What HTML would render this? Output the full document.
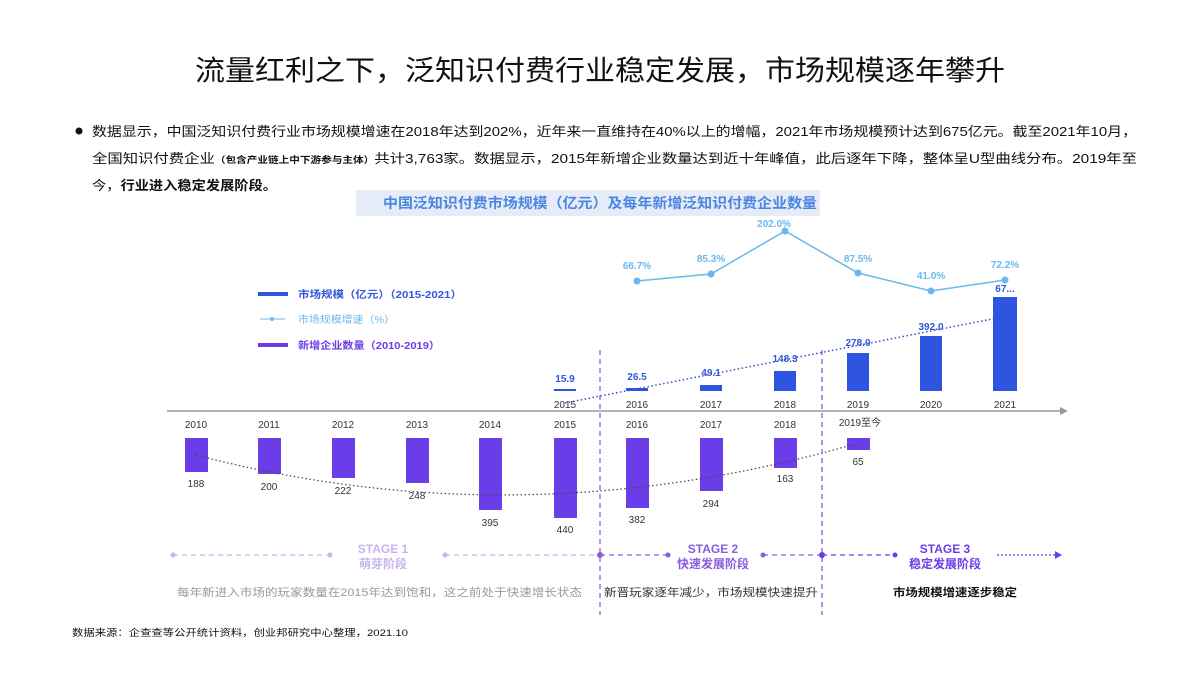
<!DOCTYPE html>
<html><head><meta charset="utf-8"><style>
body{margin:0;background:#fff;width:1200px;height:675px;overflow:hidden;font-family:"Liberation Sans","Noto Sans CJK SC",sans-serif}
</style></head><body>
<svg width="1200" height="675" xmlns="http://www.w3.org/2000/svg" font-family="Liberation Sans, Noto Sans CJK SC, sans-serif">
<text x="195" y="80" font-size="28" fill="#111" textLength="810" lengthAdjust="spacingAndGlyphs">流量红利之下，泛知识付费行业稳定发展，市场规模逐年攀升</text>
<circle cx="79" cy="131" r="3.5" fill="#111"/>
<g font-size="13" fill="#111">
<text x="92" y="136" textLength="1045" lengthAdjust="spacingAndGlyphs">数据显示，中国泛知识付费行业市场规模增速在2018年达到202%，近年来一直维持在40%以上的增幅，2021年市场规模预计达到675亿元。截至2021年10月，</text>
<text x="92" y="163" textLength="1045" lengthAdjust="spacingAndGlyphs">全国知识付费企业<tspan font-size="9" font-weight="bold">（包含产业链上中下游参与主体）</tspan>共计3,763家。数据显示，2015年新增企业数量达到近十年峰值，此后逐年下降，整体呈U型曲线分布。2019年至</text>
<text x="92" y="190" textLength="185" lengthAdjust="spacingAndGlyphs">今，<tspan font-weight="bold">行业进入稳定发展阶段。</tspan></text>
</g>
<rect x="356" y="190" width="464" height="26" fill="#e6ebf8"/>
<text x="383" y="208" font-size="14" font-weight="bold" fill="#4a86e0" textLength="434" lengthAdjust="spacingAndGlyphs">中国泛知识付费市场规模（亿元）及每年新增泛知识付费企业数量</text>
<!-- legend -->
<rect x="258" y="292" width="30" height="4" fill="#3057dc"/>
<text x="298" y="298" font-size="10" font-weight="bold" fill="#3057dc" textLength="164" lengthAdjust="spacingAndGlyphs">市场规模（亿元）（2015-2021）</text>
<line x1="260" y1="319" x2="285" y2="319" stroke="#6ab8ee"/><circle cx="272" cy="319" r="2" fill="#6ab8ee"/>
<text x="298" y="323" font-size="10" fill="#6ab8ee" textLength="97" lengthAdjust="spacingAndGlyphs">市场规模增速（%）</text>
<rect x="258" y="343" width="30" height="4" fill="#6a3de8"/>
<text x="298" y="349" font-size="10" font-weight="bold" fill="#6a3de8" textLength="142" lengthAdjust="spacingAndGlyphs">新增企业数量（2010-2019）</text>
<!-- axis -->
<line x1="167" y1="411" x2="1062" y2="411" stroke="#999" stroke-width="1.5"/>
<polygon points="1068,411 1060,407 1060,415" fill="#999"/>
<!-- top bars -->
<g fill="#2f55e0">
<rect x="554" y="389" width="22" height="2"/>
<rect x="626" y="388" width="22" height="3"/>
<rect x="700" y="385" width="22" height="6"/>
<rect x="774" y="371" width="22" height="20"/>
<rect x="847" y="353" width="22" height="38"/>
<rect x="920" y="336" width="22" height="55"/>
<rect x="993" y="297" width="24" height="94"/>
</g>
<g font-size="10" font-weight="bold" fill="#3057dc" text-anchor="middle">
<text x="565" y="382">15.9</text><text x="637" y="380">26.5</text><text x="711" y="376">49.1</text><text x="785" y="362">148.3</text><text x="858" y="346">278.0</text><text x="931" y="330">392.0</text><text x="1005" y="292">67...</text>
</g>
<g font-size="10" fill="#333" text-anchor="middle">
<text x="565" y="408">2015</text><text x="637" y="408">2016</text><text x="711" y="408">2017</text><text x="785" y="408">2018</text><text x="858" y="408">2019</text><text x="931" y="408">2020</text><text x="1005" y="408">2021</text>
</g>
<line x1="565" y1="403" x2="997" y2="318" stroke="#3a4fc0" stroke-width="1.5" stroke-dasharray="1.5,2.5"/>
<!-- growth -->
<polyline points="637,281 711,274 785,231 858,273 931,291 1005,280" fill="none" stroke="#6ab8ee" stroke-width="1.5"/>
<g fill="#6ab8ee"><circle cx="637" cy="281" r="3.5"/><circle cx="711" cy="274" r="3.5"/><circle cx="785" cy="231" r="3.5"/><circle cx="858" cy="273" r="3.5"/><circle cx="931" cy="291" r="3.5"/><circle cx="1005" cy="280" r="3.5"/></g>
<g font-size="10" font-weight="bold" fill="#6ab8ee" text-anchor="middle">
<text x="637" y="269">66.7%</text><text x="711" y="262">85.3%</text><text x="774" y="227">202.0%</text><text x="858" y="262">87.5%</text><text x="931" y="279">41.0%</text><text x="1005" y="268">72.2%</text>
</g>
<!-- bottom -->
<g font-size="10" fill="#333" text-anchor="middle">
<text x="196" y="428">2010</text><text x="269" y="428">2011</text><text x="343" y="428">2012</text><text x="417" y="428">2013</text><text x="490" y="428">2014</text><text x="565" y="428">2015</text><text x="637" y="428">2016</text><text x="711" y="428">2017</text><text x="785" y="428">2018</text><text x="860" y="426">2019至今</text>
</g>
<g fill="#6a3de8">
<rect x="185" y="438" width="23" height="34"/><rect x="258" y="438" width="23" height="36"/><rect x="332" y="438" width="23" height="40"/><rect x="406" y="438" width="23" height="45"/><rect x="479" y="438" width="23" height="72"/><rect x="554" y="438" width="23" height="80"/><rect x="626" y="438" width="23" height="70"/><rect x="700" y="438" width="23" height="53"/><rect x="774" y="438" width="23" height="30"/><rect x="847" y="438" width="23" height="12"/>
</g>
<g font-size="10" fill="#333" text-anchor="middle">
<text x="196" y="487">188</text><text x="269" y="490">200</text><text x="343" y="494">222</text><text x="417" y="499">248</text><text x="490" y="526">395</text><text x="565" y="533">440</text><text x="637" y="523">382</text><text x="711" y="507">294</text><text x="785" y="482">163</text><text x="858" y="465">65</text>
</g>
<path d="M196,455 Q520,540 855,444" fill="none" stroke="#444" stroke-width="1.2" stroke-dasharray="1.5,2.5"/>
<!-- dividers -->
<line x1="600" y1="350" x2="600" y2="615" stroke="#8a5ce0" stroke-dasharray="5,4" stroke-width="1.3"/>
<line x1="822" y1="350" x2="822" y2="615" stroke="#8a5ce0" stroke-dasharray="5,4" stroke-width="1.3"/>
<!-- stages -->
<g stroke-dasharray="5,4" stroke-width="1.3">
<line x1="173" y1="555" x2="330" y2="555" stroke="#c8b4f0"/>
<line x1="445" y1="555" x2="598" y2="555" stroke="#c8b4f0"/>
<line x1="600" y1="555" x2="668" y2="555" stroke="#8a5ce0"/>
<line x1="763" y1="555" x2="820" y2="555" stroke="#8a5ce0"/>
<line x1="822" y1="555" x2="895" y2="555" stroke="#6a3de8"/>
<line x1="997" y1="555" x2="1056" y2="555" stroke="#6a3de8" stroke-dasharray="2,2"/>
</g>
<g fill="#c8b4f0"><circle cx="173" cy="555" r="2.5"/><circle cx="330" cy="555" r="2.5"/><circle cx="445" cy="555" r="2.5"/></g>
<g fill="#8a5ce0"><circle cx="600" cy="555" r="3"/><circle cx="668" cy="555" r="2.5"/><circle cx="763" cy="555" r="2.5"/></g>
<g fill="#6a3de8"><circle cx="822" cy="555" r="3"/><circle cx="895" cy="555" r="2.5"/></g>
<polygon points="1062,555 1055,551 1055,559" fill="#6a3de8"/>
<g font-size="12" font-weight="bold" text-anchor="middle">
<text x="383" y="553" fill="#c8b4f0">STAGE 1</text><text x="383" y="568" fill="#c8b4f0">萌芽阶段</text>
<text x="713" y="553" fill="#8a5ce0">STAGE 2</text><text x="713" y="568" fill="#8a5ce0">快速发展阶段</text>
<text x="945" y="553" fill="#6a3de8">STAGE 3</text><text x="945" y="568" fill="#6a3de8">稳定发展阶段</text>
</g>
<g font-size="11">
<text x="177" y="596" fill="#999" textLength="405" lengthAdjust="spacingAndGlyphs">每年新进入市场的玩家数量在2015年达到饱和，这之前处于快速增长状态</text>
<text x="604" y="596" fill="#333" textLength="214" lengthAdjust="spacingAndGlyphs">新晋玩家逐年减少，市场规模快速提升</text>
<text x="893" y="596" fill="#111" font-weight="bold" textLength="124" lengthAdjust="spacingAndGlyphs">市场规模增速逐步稳定</text>
</g>
<text x="72" y="636" font-size="9.5" fill="#111" textLength="336" lengthAdjust="spacingAndGlyphs">数据来源：企查查等公开统计资料，创业邦研究中心整理，2021.10</text>
</svg>
</body></html>
